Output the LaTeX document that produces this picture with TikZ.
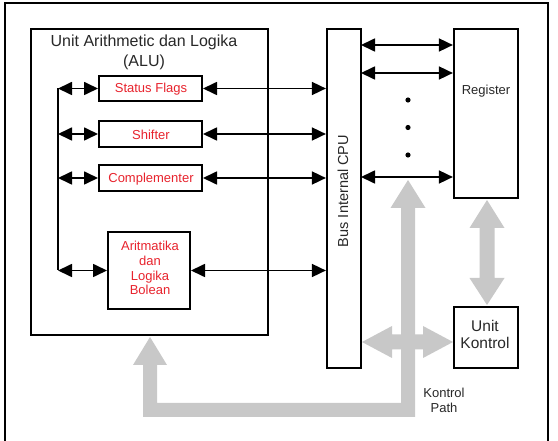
\documentclass[tikz,border=0pt]{standalone}
\usepackage{fontspec}
\setmainfont{Liberation Sans}
\usetikzlibrary{arrows.meta}
\definecolor{redtxt}{RGB}{232,35,45}
\definecolor{graypath}{RGB}{200,200,200}
\definecolor{txtgray}{RGB}{40,40,40}
\begin{document}
\begin{tikzpicture}[x=1pt,y=-1pt,
  box/.style={draw, line width=2.2pt, rectangle, inner sep=0pt},
  redlbl/.style={text=redtxt, font=\fontsize{13}{15}\selectfont, inner sep=0pt, anchor=base},
  lbl/.style={text=txtgray, font=\fontsize{13}{15}\selectfont, inner sep=0pt, anchor=base},
  biglbl/.style={text=txtgray, font=\fontsize{16}{20}\selectfont, inner sep=0pt, anchor=base},
  dbl/.style={line width=1.7pt, {Triangle[length=14pt,width=13pt]}-{Triangle[length=14pt,width=13pt]}},
  fatgray/.style={fill=graypath, draw=none}]
\useasboundingbox (0,0) rectangle (558,441);
\fill[white] (0,0) rectangle (558,441);
% outer frame
\draw[line width=2pt] (5,470) -- (5,3.5) -- (548,3.5) -- (548,470);

% gray control path (L-shape with two heads)
\fill[fatgray] (143,417) -- (415,417) -- (415,208) -- (425.5,208) -- (408,180) -- (390.5,208)
  -- (401,208) -- (401,403) -- (157,403) -- (157,365) -- (167,365) -- (150,337)
  -- (133,365) -- (143,365) -- cycle;
% gray horizontal double arrow bus <-> unit kontrol
\fill[fatgray] (362,342) -- (392,326) -- (392,334.5) -- (423,334.5) -- (423,326) -- (453,342)
  -- (423,358) -- (423,349.5) -- (392,349.5) -- (392,358) -- cycle;
% gray vertical double arrow register <-> unit kontrol
\fill[fatgray] (487,200) -- (504.5,228) -- (494.5,228) -- (494.5,278) -- (504.5,278) -- (487,305)
  -- (469.5,278) -- (479.5,278) -- (479.5,228) -- (469.5,228) -- cycle;

% ALU
\node[box, minimum width=237pt, minimum height=306pt] (alu) at (149.5,182) {};
\node[biglbl] (t1) at (144,47) {Unit Arithmetic dan Logika};
\node[biglbl] (t2) at (144,67) {(ALU)};

\node[box, line width=2pt, minimum width=103pt, minimum height=25pt] (sf) at (150.5,88.5) {};
\node[redlbl] (sft) at (151,93) {Status Flags};
\node[box, line width=2pt, minimum width=103pt, minimum height=26pt] (sh) at (150.5,134) {};
\node[redlbl] (sht) at (151,139.5) {Shifter};
\node[box, line width=2pt, minimum width=103pt, minimum height=26pt] (cm) at (150.5,178) {};
\node[redlbl] (cmt) at (151,183) {Complementer};
\node[box, line width=2pt, minimum width=82pt, minimum height=77pt] (ar) at (149,270.5) {};
\node[redlbl] (ar1) at (150,251) {Aritmatika};
\node[redlbl] (ar2) at (150,265.5) {dan};
\node[redlbl] (ar3) at (150,280.5) {Logika};
\node[redlbl] (ar4) at (150,295) {Bolean};

% bus
\node[box, minimum width=34pt, minimum height=339pt] (bus) at (344,198.5) {};
\node[text=txtgray, font=\fontsize{14.5}{17}\selectfont, inner sep=0pt, rotate=90] (bust) at (343,191) {Bus Internal CPU};

% register & unit kontrol
\node[box, minimum width=64pt, minimum height=169pt] (reg) at (486,113.5) {};
\node[lbl] (regt) at (486,94.5) {Register};
\node[box, minimum width=64pt, minimum height=61pt] (uk) at (486,337.5) {};
\node[text=txtgray, font=\fontsize{15.5}{17}\selectfont, inner sep=0pt, anchor=base] (uk1) at (485,332) {Unit};
\node[text=txtgray, font=\fontsize{15.5}{17}\selectfont, inner sep=0pt, anchor=base] (uk2) at (485,349) {Kontrol};

% kontrol path label
\node[lbl] (kp1) at (444,397.5) {Kontrol};
\node[lbl] (kp2) at (444,413) {Path};

% left vertical distribution line
\coordinate (v1) at (58,88.5);
\coordinate (v2) at (58,134);
\coordinate (v3) at (58,178);
\coordinate (v4) at (58,270.5);
\draw[line width=1.8pt] (v1) -- (v4);
\draw[dbl] (v1) -- (sf.west);
\draw[dbl] (v2) -- (sh.west);
\draw[dbl] (v3) -- (cm.west);
\draw[dbl] (v4) -- (ar.west);

% ALU boxes to bus
\draw[dbl] (sf.east) -- (sf.east -| bus.west);
\draw[dbl] (sh.east) -- (sh.east -| bus.west);
\draw[dbl] (cm.east) -- (cm.east -| bus.west);
\draw[dbl] (ar.east) -- (ar.east -| bus.west);

% bus to register
\coordinate (b1) at (361,45);
\coordinate (b2) at (361,73);
\coordinate (b3) at (361,177);
\draw[dbl] (b1) -- (b1 -| reg.west);
\draw[dbl] (b2) -- (b2 -| reg.west);
\draw[dbl] (b3) -- (b3 -| reg.west);

% dots
\fill (408,100) circle (2.6pt);
\fill (408,127.5) circle (2.6pt);
\fill (408,155) circle (2.6pt);
\end{tikzpicture}
\end{document}
